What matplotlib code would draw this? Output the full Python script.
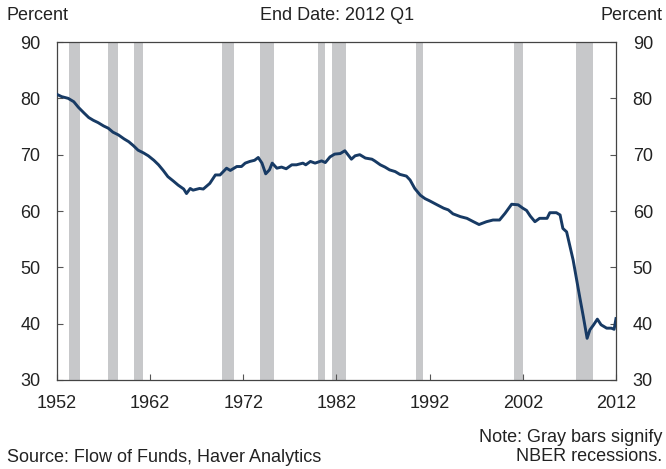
import matplotlib
matplotlib.use("Agg")
from matplotlib import pyplot as plt

plt.rcParams["font.family"] = ["Liberation Sans", "DejaVu Sans"]

# owners' equity share (year, percent)
years = [1952.0, 1952.5, 1953.2, 1953.8, 1954.3, 1954.9, 1955.4, 1955.9, 1956.4,
         1957.0, 1957.5, 1958.0, 1958.6, 1959.2, 1959.7, 1960.2, 1960.7, 1961.3,
         1961.8, 1962.4, 1962.9, 1963.4, 1963.9, 1964.5, 1965.0, 1965.6, 1965.9,
         1966.3, 1966.6, 1967.3, 1967.7, 1968.4, 1969.0, 1969.5, 1970.2, 1970.6,
         1971.3, 1971.8, 1972.2, 1972.7, 1973.2, 1973.6, 1974.0, 1974.4, 1974.8,
         1975.1, 1975.6, 1976.1, 1976.6, 1977.2, 1977.7, 1978.4, 1978.7, 1979.2,
         1979.7, 1980.4, 1980.8, 1981.3, 1981.8, 1982.4, 1982.9, 1983.6, 1984.0,
         1984.5, 1985.1, 1985.8, 1986.1, 1986.7, 1987.2, 1987.7, 1988.3, 1988.8,
         1989.5, 1989.9, 1990.4, 1991.0, 1991.5, 1992.0, 1992.8, 1993.5, 1994.0,
         1994.5, 1995.3, 1996.0, 1996.7, 1997.3, 1998.1, 1998.8, 1999.5, 2000.1,
         2000.8, 2001.5, 2002.0, 2002.4, 2002.8, 2003.3, 2003.8, 2004.6, 2004.9,
         2005.6, 2006.0, 2006.3, 2006.7, 2007.4, 2008.1, 2008.5, 2008.9, 2009.2,
         2009.6, 2010.0, 2010.4, 2011.0, 2011.5, 2011.8, 2012.0]
equity = [80.7, 80.3, 80.0, 79.4, 78.4, 77.4, 76.6, 76.1, 75.7,
          75.1, 74.7, 74.0, 73.5, 72.8, 72.3, 71.6, 70.8, 70.3,
          69.8, 69.0, 68.2, 67.2, 66.1, 65.3, 64.6, 63.9, 63.1,
          64.0, 63.7, 64.0, 63.9, 64.9, 66.4, 66.4, 67.6, 67.2,
          67.9, 67.9, 68.5, 68.8, 69.0, 69.5, 68.5, 66.6, 67.3,
          68.5, 67.6, 67.8, 67.5, 68.2, 68.2, 68.5, 68.2, 68.8,
          68.5, 68.9, 68.6, 69.6, 70.1, 70.2, 70.7, 69.2, 69.8,
          70.0, 69.4, 69.2, 68.9, 68.2, 67.8, 67.3, 67.0, 66.5,
          66.2, 65.5, 64.0, 62.8, 62.2, 61.8, 61.1, 60.5, 60.2,
          59.5, 59.0, 58.7, 58.1, 57.6, 58.1, 58.4, 58.4, 59.6,
          61.2, 61.1, 60.5, 60.1, 59.1, 58.1, 58.7, 58.7, 59.7,
          59.7, 59.3, 56.9, 56.3, 51.3, 44.8, 41.2, 37.4, 38.9,
          39.8, 40.8, 39.8, 39.2, 39.2, 39.0, 40.9]

# NBER recessions (start, end)
rec_start = [1953.25, 1957.5, 1960.25, 1969.75, 1973.75, 1980.0, 1981.5, 1990.5, 2001.0, 2007.75]
rec_end = [1954.5, 1958.5, 1961.25, 1971.0, 1975.25, 1980.75, 1983.0, 1991.25, 2002.0, 2009.5]

xticks = [1952, 1962, 1972, 1982, 1992, 2002, 2012]
yticks = [30, 40, 50, 60, 70, 80, 90]

txt = "#222222"
fs = 13
fig = plt.figure(figsize=(6.66, 4.69), dpi=100)
ax = fig.add_axes([0.0856, 0.1898, 0.8393, 0.7206])

for s, e in zip(rec_start, rec_end):
    ax.axvspan(s, e, color="#c7c8ca", lw=0, zorder=1)

ax.plot(years, equity, color="#173a64", lw=2.1, zorder=3)

ax.set_xlim(1952, 2012)
ax.set_ylim(30, 90)
ax.set_xticks(xticks)
ax.set_yticks(yticks)
ax.tick_params(axis="both", direction="in", length=4, width=0.8, colors="#555555",
               labelcolor=txt, labelsize=fs)
ax.tick_params(axis="y", right=True, labelright=True, pad=12)
ax.tick_params(axis="x", pad=11)
for sp in ax.spines.values():
    sp.set_color("#444444")
    sp.set_linewidth(0.9)

fig.text(7 / 666, 1 - 15 / 469, "Percent", fontsize=fs, color=txt, ha="left", va="center")
fig.text(663 / 666, 1 - 15 / 469, "Percent", fontsize=fs, color=txt, ha="right", va="center")
fig.text(337 / 666, 1 - 15 / 469, "End Date: 2012 Q1", fontsize=fs, color=txt, ha="center", va="center")
fig.text(7 / 666, 1 - 457 / 469, "Source: Flow of Funds, Haver Analytics", fontsize=fs, color=txt,
         ha="left", va="center")
fig.text(662 / 666, 1 - 447 / 469, "Note: Gray bars signify\nNBER recessions.", fontsize=fs, color=txt,
         ha="right", va="center", multialignment="right", linespacing=1.2)

fig.savefig("out.png", dpi=100)
